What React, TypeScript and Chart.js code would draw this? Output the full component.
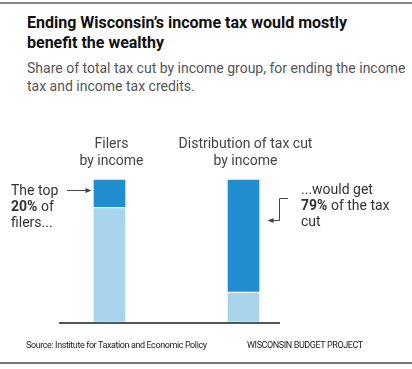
import React, { useEffect, useRef } from 'react';
import { Chart, registerables } from 'chart.js';

Chart.register(...registerables);

// ---- data ----
const categories: string[][] = [
  ['Filers', 'by income'],
  ['Distribution of tax cut', 'by income'],
];
const seriesNames = ['Bottom 80% of filers', 'Top 20% of filers'];
const bottomShare = [80, 21];
const topShare = [20, 79];
const scaleMax = 100;

const DARK = '#218ecf';
const LIGHT = '#a8d4ec';

export default function App() {
  const ref = useRef<HTMLCanvasElement | null>(null);

  useEffect(() => {
    if (!ref.current) return;
    const decorations = {
      id: 'decorations',
      afterDatasetsDraw(chart: any) {
        const ctx = chart.ctx as CanvasRenderingContext2D;
        const area = chart.chartArea;
        const yScale = chart.scales.y;
        const meta = chart.getDatasetMeta(1);
        const b1 = meta.data[0] as any;
        const b2 = meta.data[1] as any;
        ctx.save();
        // baseline
        const y0 = yScale.getPixelForValue(0);
        ctx.fillStyle = '#555';
        ctx.fillRect(area.left + 16.5, y0 - 0.5, area.right - area.left - 47, 2);

        ctx.strokeStyle = '#444';
        ctx.fillStyle = '#444';
        ctx.lineWidth = 1;
        // left arrow -> bar 1
        const l1 = b1.x - b1.width / 2;
        const ya = Math.round(area.top + 11) + 0.5;
        ctx.beginPath();
        ctx.moveTo(l1 - 26, ya);
        ctx.lineTo(l1 - 6, ya);
        ctx.stroke();
        ctx.beginPath();
        ctx.moveTo(l1 - 1.5, ya);
        ctx.lineTo(l1 - 7.5, ya - 2.5);
        ctx.lineTo(l1 - 7.5, ya + 2.5);
        ctx.closePath();
        ctx.fill();

        // elbow arrow <- bar 2
        const r2 = b2.x + b2.width / 2;
        const yt = Math.round(area.top + 19) + 0.5;
        const yb = Math.round(area.top + 41) + 0.5;
        const xv = Math.round(r2 + 19) + 0.5;
        ctx.beginPath();
        ctx.moveTo(r2 + 28, yt);
        ctx.lineTo(xv, yt);
        ctx.lineTo(xv, yb);
        ctx.lineTo(r2 + 13, yb);
        ctx.stroke();
        ctx.beginPath();
        ctx.moveTo(r2 + 7.5, yb);
        ctx.lineTo(r2 + 13.5, yb - 2.5);
        ctx.lineTo(r2 + 13.5, yb + 2.5);
        ctx.closePath();
        ctx.fill();
        ctx.restore();
      },
    };

    const chart = new Chart(ref.current, {
      type: 'bar',
      data: {
        labels: categories as any,
        datasets: [
          {
            label: seriesNames[0],
            data: bottomShare,
            backgroundColor: LIGHT,
            borderColor: '#ffffff',
            borderWidth: 1,
            borderSkipped: false,
            barThickness: 33,
          },
          {
            label: seriesNames[1],
            data: topShare,
            backgroundColor: DARK,
            borderColor: '#ffffff',
            borderWidth: 1,
            borderSkipped: false,
            barThickness: 33,
          },
        ],
      },
      options: {
        responsive: false,
        maintainAspectRatio: false,
        animation: false,
        events: [],
        layout: { padding: { left: 42.5, right: 101.5, top: 126.4, bottom: 46.5 } },
        plugins: { legend: { display: false }, tooltip: { enabled: false } },
        scales: {
          x: {
            position: 'top',
            stacked: true,
            offset: true,
            grid: { display: false, drawTicks: false },
            border: { display: false },
            ticks: {
              maxRotation: 0,
              minRotation: 0,
              autoSkip: false,
              padding: 9.5,
              labelOffset: 2,
              color: '#444',
              font: { family: 'Roboto', size: 14, lineHeight: 1.2 },
            },
          },
          y: {
            stacked: true,
            display: false,
            min: 0,
            max: scaleMax,
          },
        },
      },
      plugins: [decorations],
    });
    return () => chart.destroy();
  }, []);

  const font = 'Roboto, "Noto Sans", sans-serif';
  return (
    <div
      style={{
        position: 'absolute',
        left: 0,
        top: 0,
        width: 412,
        height: 369,
        background: '#fff',
        fontFamily: font,
        overflow: 'hidden',
      }}
    >
      <div style={{ position: 'absolute', left: 0, top: 2, width: 412, height: 2, background: '#888' }} />
      <div
        style={{
          position: 'absolute',
          left: 27,
          top: 13.3,
          fontSize: 16,
          lineHeight: '20px',
          fontWeight: 700,
          color: '#111',
          whiteSpace: 'nowrap',
        }}
      >
        Ending Wisconsin’s income tax would mostly
        <br />
        benefit the wealthy
      </div>
      <div
        style={{
          position: 'absolute',
          left: 27,
          top: 58.5,
          fontSize: 14,
          lineHeight: '18px',
          color: '#555',
          whiteSpace: 'nowrap',
        }}
      >
        Share of total tax cut by income group, for ending the income
        <br />
        tax and income tax credits.
      </div>
      <canvas
        ref={ref}
        width={412}
        height={369}
        style={{ position: 'absolute', left: 0, top: 0, width: 412, height: 369 }}
      />
      <div
        style={{
          position: 'absolute',
          left: 11,
          top: 182.2,
          fontSize: 14,
          lineHeight: '16px',
          color: '#333',
          whiteSpace: 'nowrap',
        }}
      >
        The top
        <br />
        <b>20%</b> of
        <br />
        filers...
      </div>
      <div
        style={{
          position: 'absolute',
          left: 301,
          top: 181.2,
          fontSize: 14,
          lineHeight: '16px',
          color: '#333',
          whiteSpace: 'nowrap',
        }}
      >
        ...would get
        <br />
        <b>79%</b> of the tax
        <br />
        cut
      </div>
      <div
        style={{
          position: 'absolute',
          left: 26,
          top: 340.4,
          fontSize: 9,
          lineHeight: '11px',
          color: '#222',
          letterSpacing: -0.4,
          whiteSpace: 'nowrap',
        }}
      >
        Source: Institute for Taxation and Economic Policy
      </div>
      <div
        style={{
          position: 'absolute',
          left: 247,
          top: 340.4,
          fontSize: 9,
          lineHeight: '11px',
          color: '#222',
          letterSpacing: -0.4,
          whiteSpace: 'nowrap',
        }}
      >
        WISCONSIN BUDGET PROJECT
      </div>
      <div style={{ position: 'absolute', left: 0, top: 362, width: 412, height: 2, background: '#777' }} />
    </div>
  );
}
